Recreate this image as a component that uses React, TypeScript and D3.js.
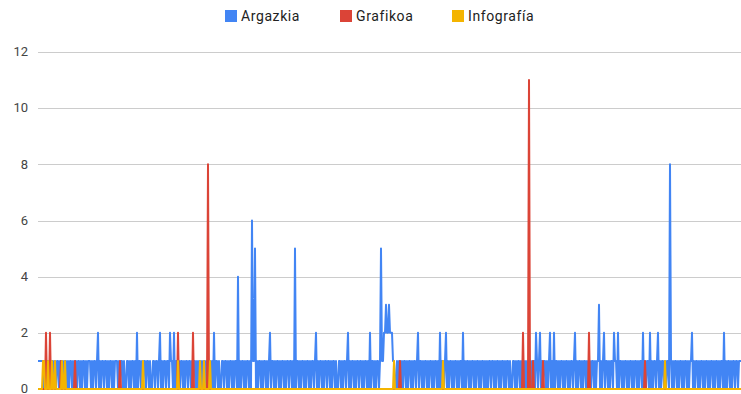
import { useEffect, useRef } from 'react';
import * as d3 from 'd3';

const seriesNames = ['Argazkia', 'Grafikoa', 'Infografía'];
const seriesColors = ['#4285F4', '#DB4437', '#F4B400'];
const yTicks = [0, 2, 4, 6, 8, 10, 12];

// one value per day (704 points, rows of 32)
const argazkia = [
  1,1,1,1,1,1,0,1,0,1,1,0,1,0,1,1,0,1,0,1,1,0,1,1,0,1,0,1,1,0,1,0,
  1,1,0,1,0,1,1,0,1,1,0,1,0,1,1,0,1,0,1,1,1,0,1,0,1,1,0,1,2,0,1,0,
  1,1,0,1,1,0,1,0,1,1,0,1,0,1,1,1,0,1,0,1,1,0,1,0,0,1,1,0,1,0,1,1,
  0,1,0,2,0,1,1,0,1,0,1,1,0,1,1,0,1,0,0,1,1,0,1,1,0,1,2,0,1,0,1,1,
  0,1,1,0,2,1,1,0,2,0,1,1,0,1,0,1,1,0,1,0,1,1,0,1,1,0,1,0,1,1,0,1,
  0,1,1,0,1,0,1,1,0,1,0,1,1,0,1,0,2,0,1,1,0,1,0,0,1,1,0,1,1,0,1,0,
  1,1,0,1,0,1,1,0,4,0,1,0,1,1,0,1,0,1,1,0,1,0,6,1,1,5,0,1,0,1,1,0,
  1,0,1,1,0,1,0,1,2,0,1,1,0,1,0,1,1,0,1,0,1,1,0,1,0,1,1,0,1,1,0,1,
  0,5,0,1,1,0,1,0,1,1,0,1,0,1,1,0,1,0,1,1,0,1,2,0,1,0,1,1,0,1,0,1,
  1,0,1,1,0,1,0,1,1,0,1,0,0,1,1,0,1,0,1,1,0,1,2,0,1,0,1,1,0,1,0,1,
  1,0,1,1,0,1,0,1,1,0,1,0,2,0,1,1,0,1,0,1,1,0,1,5,1,1,2,2,3,2,2,3,
  2,2,2,1,1,0,0,1,0,1,1,0,1,0,1,1,0,1,0,1,1,0,1,0,1,1,0,1,2,0,1,1,
  0,1,0,1,1,0,1,0,1,1,0,1,0,1,1,0,1,0,2,0,1,1,0,1,2,0,1,0,1,1,0,1,
  0,1,1,0,1,0,1,1,0,2,0,1,0,1,1,0,1,0,1,1,0,1,0,1,1,0,1,0,1,1,0,1,
  0,1,0,1,1,0,1,1,0,1,0,1,1,0,1,0,1,1,0,1,0,1,1,0,1,0,0,1,1,0,1,0,
  1,1,0,1,0,1,1,0,1,0,1,1,0,1,0,1,1,0,2,1,0,1,2,0,1,0,1,1,0,1,0,1,
  2,0,1,0,2,0,1,1,0,1,0,1,1,0,1,0,1,1,0,1,0,1,1,0,1,2,0,1,0,1,1,0,
  1,0,1,1,0,1,0,1,1,0,1,1,0,1,0,1,1,3,0,1,0,1,2,0,1,1,0,1,0,1,1,0,
  2,1,1,0,2,0,1,1,0,1,0,1,1,0,1,0,1,1,0,1,0,1,1,0,1,0,1,1,0,2,0,1,
  0,1,1,0,2,0,1,0,1,1,0,1,2,0,1,0,1,1,0,1,0,1,1,0,8,1,0,1,0,1,1,0,
  1,0,1,1,0,1,0,1,1,0,1,0,1,1,2,0,1,0,1,1,0,1,0,1,1,0,1,0,1,1,0,1,
  0,1,1,0,1,0,1,1,0,1,0,1,1,0,2,0,1,0,1,1,0,1,0,1,1,0,1,1,0,1,1,1,
];

const grafikoa = [
  0,0,0,0,0,0,0,0, 2,0,0,0,2,0,0,0, 0,0,0,0,0,0,0,1, 0,0,0,0,0,0,0,0,
  0,0,0,0,0,1,0,0, 0,0,0,0,0,0,0,0, 0,0,0,0,0,0,0,0, 0,0,0,0,0,0,0,0,
  0,0,0,0,0,0,0,0, 0,0,0,0,0,0,0,0, 0,0,1,0,0,0,0,0, 0,0,0,0,0,0,0,0,
  0,0,0,0,0,0,0,0, 0,0,0,0,0,0,0,0, 0,0,0,0,0,0,0,0, 0,0,0,0,0,0,0,0,
  0,0,0,0,0,0,0,0, 0,0,0,0,2,0,0,0, 0,0,0,0,0,0,0,0, 0,0,0,2,0,0,0,0,
  0,0,0,0,0,0,0,0, 0,0,8,0,0,0,0,0, 0,0,0,0,0,0,0,0, 0,0,0,0,0,0,0,0,
  0,0,0,0,0,0,0,0, 0,0,0,0,0,0,0,0, 0,0,0,0,0,0,0,0, 0,0,0,0,0,0,0,0,
  0,0,0,0,0,0,0,0, 0,0,0,0,0,0,0,0, 0,0,0,0,0,0,0,0, 0,0,0,0,0,0,0,0,
  0,0,0,0,0,0,0,0, 0,0,0,0,0,0,0,0, 0,0,0,0,0,0,0,0, 0,0,0,0,0,0,0,0,
  0,0,0,0,0,0,0,0, 0,0,0,0,0,0,0,0, 0,0,0,0,0,0,0,0, 0,0,0,0,0,0,0,0,
  0,0,0,0,0,0,0,0, 0,0,0,0,0,0,0,0, 0,0,0,0,0,0,0,0, 0,0,0,0,0,0,0,0,
  0,0,0,0,0,0,0,0, 0,0,1,0,0,0,0,0, 0,0,0,0,0,0,0,0, 0,0,0,0,0,0,0,0,
  0,0,0,0,0,0,0,0, 0,0,0,0,0,0,0,0, 0,0,0,0,0,0,0,0, 0,0,0,0,0,0,0,0,
  0,0,0,0,0,0,0,0, 0,0,0,0,0,0,0,0, 0,0,0,0,0,0,0,0, 0,0,0,0,0,0,0,0,
  0,0,0,0,0,0,0,0, 0,0,0,0,0,0,0,0, 0,0,0,0,0,0,0,0, 0,0,0,0,0,0,0,0,
  0,0,0,0,0,2,0,0, 0,0,0,11,0,0,0,1, 0,0,0,0,0,0,0,0, 0,1,0,0,0,0,0,0,
  0,0,0,0,0,0,0,0, 0,0,0,0,0,0,0,0, 0,0,0,0,0,0,0,0, 0,0,0,0,0,0,0,0,
  0,0,0,0,0,0,0,2, 0,0,0,0,0,0,0,0, 0,0,0,0,0,0,0,0, 0,0,0,0,0,0,0,0,
  0,0,0,0,0,0,0,0, 0,0,0,0,0,0,0,0, 0,0,0,0,0,0,0,0, 0,0,0,0,0,0,0,1,
  0,0,0,0,0,0,0,0, 0,0,0,0,0,0,0,0, 0,0,0,0,0,0,0,0, 0,0,0,0,0,0,0,0,
  0,0,0,0,0,0,0,0, 0,0,0,0,0,0,0,0, 0,0,0,0,0,0,0,0, 0,0,0,0,0,0,0,0,
  0,0,0,0,0,0,0,0, 0,0,0,0,0,0,0,0, 0,0,0,0,0,0,0,0, 0,0,0,0,0,0,0,0,
];

const infografia = [
  0,0,0,0,0,1,1,0, 0,0,1,0,0,0,1,0, 0,1,0,0,0,0,0,0, 1,0,0,1,0,0,0,0,
  0,0,0,0,0,0,0,0, 0,0,0,0,0,0,0,0, 0,0,0,0,0,0,0,0, 0,0,0,0,0,0,0,0,
  0,0,0,0,0,0,0,0, 0,0,0,0,0,0,0,0, 0,0,0,0,0,0,0,0, 0,0,0,0,0,0,0,0,
  0,0,0,0,0,0,0,0, 0,1,0,0,0,0,0,0, 0,0,0,0,0,0,0,0, 0,0,0,0,0,0,0,0,
  0,0,0,0,0,0,0,0, 0,0,0,0,1,0,0,0, 0,0,0,0,0,0,0,0, 0,0,0,0,0,0,0,0,
  0,0,1,0,0,0,1,0, 0,0,0,0,1,0,0,0, 0,0,0,0,0,0,0,0, 0,0,0,0,0,0,0,0,
  0,0,0,0,0,0,0,0, 0,0,0,0,0,0,0,0, 0,0,0,0,0,0,0,0, 0,0,0,0,0,0,0,0,
  0,0,0,0,0,0,0,0, 0,0,0,0,0,0,0,0, 0,0,0,0,0,0,0,0, 0,0,0,0,0,0,0,0,
  0,0,0,0,0,0,0,0, 0,0,0,0,0,0,0,0, 0,0,0,0,0,0,0,0, 0,0,0,0,0,0,0,0,
  0,0,0,0,0,0,0,0, 0,0,0,0,0,0,0,0, 0,0,0,0,0,0,0,0, 0,0,0,0,0,0,0,0,
  0,0,0,0,0,0,0,0, 0,0,0,0,0,0,0,0, 0,0,0,0,0,0,0,0, 0,0,0,0,0,0,0,0,
  0,0,0,0,1,0,0,0, 0,0,0,0,0,0,0,0, 0,0,0,0,0,0,0,0, 0,0,0,0,0,0,0,0,
  0,0,0,0,0,0,0,0, 0,0,0,0,0,0,0,0, 0,0,0,0,0,1,0,0, 0,0,0,0,0,0,0,0,
  0,0,0,0,0,0,0,0, 0,0,0,0,0,0,0,0, 0,0,0,0,0,0,0,0, 0,0,0,0,0,0,0,0,
  0,0,0,0,0,0,0,0, 0,0,0,0,0,0,0,0, 0,0,0,0,0,0,0,0, 0,0,0,0,0,0,0,0,
  0,0,0,0,0,0,0,0, 0,0,0,0,0,0,0,0, 0,0,0,0,0,0,0,0, 0,0,0,0,0,0,0,0,
  0,0,0,0,0,0,0,0, 0,0,0,0,0,0,0,0, 0,0,0,0,0,0,0,0, 0,0,0,0,0,0,0,0,
  0,0,0,0,0,0,0,0, 0,0,0,0,0,0,0,0, 0,0,0,0,0,0,0,0, 0,0,0,0,0,0,0,0,
  0,0,0,0,0,0,0,0, 0,0,0,0,0,0,0,0, 0,0,0,0,0,0,0,0, 0,0,0,0,0,0,0,0,
  0,0,0,0,0,0,0,0, 0,0,0,0,0,0,0,0, 0,0,0,1,0,0,0,0, 0,0,0,0,0,0,0,0,
  0,0,0,0,0,0,0,0, 0,0,0,0,0,0,0,0, 0,0,0,0,0,0,0,0, 0,0,0,0,0,0,0,0,
  0,0,0,0,0,0,0,0, 0,0,0,0,0,0,0,0, 0,0,0,0,0,0,0,0, 0,0,0,0,0,0,0,0,
];

const allSeries = [argazkia, grafikoa, infografia];

export default function App() {
  const svgRef = useRef<SVGSVGElement>(null);

  useEffect(() => {
    if (!svgRef.current) return;
    const svg = d3.select(svgRef.current);
    svg.selectAll('*').remove();

    const width = 741;
    const height = 394;
    const font = 'Roboto, Arial, sans-serif';

    svg.attr('width', width).attr('height', height);
    svg.append('rect').attr('width', width).attr('height', height).attr('fill', '#fff');

    const x = d3.scaleLinear().domain([0, argazkia.length - 1]).range([38, 741]);
    const y = d3.scaleLinear().domain([0, 12]).range([389, 52]);

    // gridlines + y labels
    const grid = svg.append('g');
    grid.selectAll('line')
      .data(yTicks.filter(t => t > 0))
      .enter()
      .append('line')
      .attr('x1', 38)
      .attr('x2', 741)
      .attr('y1', d => Math.round(y(d)) + 0.5)
      .attr('y2', d => Math.round(y(d)) + 0.5)
      .attr('stroke', '#cccccc')
      .attr('stroke-width', 1);

    grid.selectAll('text')
      .data(yTicks)
      .enter()
      .append('text')
      .attr('x', 28)
      .attr('y', d => y(d))
      .attr('dy', '0.33em')
      .attr('text-anchor', 'end')
      .attr('font-family', font)
      .attr('font-size', 13)
      .attr('fill', '#444')
      .text(d => d);

    // baseline
    svg.append('line')
      .attr('x1', 38)
      .attr('x2', 741)
      .attr('y1', 389.5)
      .attr('y2', 389.5)
      .attr('stroke', '#333')
      .attr('stroke-width', 1);

    const line = d3.line<number>()
      .x((_, i) => x(i))
      .y(d => y(d));

    allSeries.forEach((values, si) => {
      svg.append('path')
        .datum(values)
        .attr('d', line)
        .attr('fill', 'none')
        .attr('stroke', seriesColors[si])
        .attr('stroke-width', 2)
        .attr('stroke-linejoin', 'round');
    });

    // legend
    const legendX = [225, 340, 452];
    const legend = svg.append('g');
    seriesNames.forEach((name, i) => {
      legend.append('rect')
        .attr('x', legendX[i])
        .attr('y', 10)
        .attr('width', 12)
        .attr('height', 12)
        .attr('fill', seriesColors[i]);
      legend.append('text')
        .attr('x', legendX[i] + 16)
        .attr('y', 16)
        .attr('dy', '0.35em')
        .attr('font-family', font)
        .attr('font-size', 14)
        .attr('letter-spacing', 0.6)
        .attr('fill', '#222')
        .text(name);
    });
  }, []);

  return (
    <svg
      ref={svgRef}
      style={{ position: 'absolute', left: 0, top: 0, display: 'block' }}
    />
  );
}
